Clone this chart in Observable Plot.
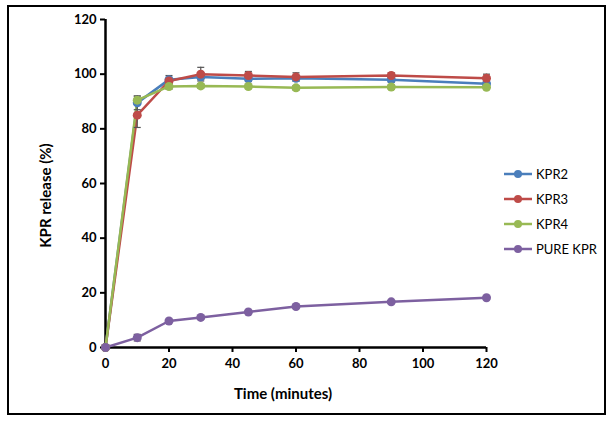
<!DOCTYPE html>
<html>
<head>
<meta charset="utf-8">
<script src="https://cdn.jsdelivr.net/npm/d3@7"></script>
<script src="https://cdn.jsdelivr.net/npm/@observablehq/plot@0.6"></script>
<style>
  html, body { margin: 0; padding: 0; background: #fff; }
  #wrap { position: relative; width: 613px; height: 425px; }
  #frame { position: absolute; left: 7px; top: 5px; width: 595px; height: 406px; border: 2px solid #000; pointer-events: none; }
  #legend { position: absolute; left: 503px; top: 161px; font-family: Lato, "Liberation Sans", sans-serif; font-size: 13px; color: #000; }
  #legend .item { display: flex; align-items: center; height: 25px; }
  #legend svg { margin-right: 3px; }
</style>
</head>
<body>
<div id="wrap">
  <div id="chart"></div>
  <div id="legend"></div>
  <div id="frame"></div>
</div>
<script>
const times = [0, 10, 20, 30, 45, 60, 90, 120];
const seriesNames = ["KPR2", "KPR3", "KPR4", "PURE KPR"];
const colors = ["#4A7EBB", "#BE4B48", "#98B954", "#7D60A0"];
const kpr2 = [0, 89.5, 98, 99, 98.3, 98.5, 98, 96.5];
const kpr3 = [0, 85, 97.5, 100, 99.5, 99, 99.5, 98.5];
const kpr4 = [0, 90.5, 95.5, 95.7, 95.5, 95, 95.3, 95.2];
const pure = [0, 3.6, 9.7, 11, 13, 15, 16.7, 18.2];
const kpr2Err = [0, 2.5, 1.5, 1, 1, 1, 1, 1];
const kpr3Err = [0, 4.5, 1, 2.5, 1.5, 1.5, 1, 1.5];
const kpr4Err = [0, 1.5, 1, 0.8, 0.8, 0.8, 0.8, 0.8];
const pureErr = [0, 1.2, 0.5, 0.5, 0.5, 0.5, 0.5, 0.5];
const xTicks = [0, 20, 40, 60, 80, 100, 120];
const yTicks = [0, 20, 40, 60, 80, 100, 120];
const xLabel = "Time (minutes)";
const yLabel = "KPR release (%)";

const allValues = [kpr2, kpr3, kpr4, pure];
const allErr = [kpr2Err, kpr3Err, kpr4Err, pureErr];
const data = [];
seriesNames.forEach((s, i) => {
  times.forEach((t, j) => {
    data.push({series: s, time: t, value: allValues[i][j], err: allErr[i][j]});
  });
});

const capSymbol = {
  draw(context, size) {
    const r = 3.5;
    context.moveTo(-r, 0);
    context.lineTo(r, 0);
  }
};

const font = "Lato, 'Liberation Sans', sans-serif";
const errData = data.filter(d => d.err > 0);

const chart = Plot.plot({
  width: 613,
  height: 425,
  marginLeft: 105,
  marginRight: 127,
  marginTop: 19,
  marginBottom: 78,
  style: { fontFamily: font, fontSize: "13px", fontWeight: "bold", color: "#000", background: "#fff" },
  x: { domain: [0, 120] },
  y: { domain: [0, 120] },
  color: { domain: seriesNames, range: colors },
  marks: [
    Plot.axisY({ ticks: yTicks, tickSize: 5, tickPadding: 4, strokeWidth: 2, label: null, fontSize: 13 }),
    Plot.axisX({ ticks: xTicks, tickSize: 5, tickPadding: 6, strokeWidth: 2, label: null, fontSize: 13 }),
    Plot.text([yLabel], { text: d => d, frameAnchor: "left", textAnchor: "middle", rotate: -90, dx: -59, dy: 12, fontSize: 15, fontWeight: "bold" }),
    Plot.text([xLabel], { text: d => d, frameAnchor: "bottom", textAnchor: "middle", dx: -13, dy: 51, fontSize: 15, fontWeight: "bold" }),
    Plot.ruleX([0], { stroke: "#000", strokeWidth: 2.5 }),
    Plot.ruleY([0], { stroke: "#000", strokeWidth: 2.5 }),
    Plot.line(data, { x: "time", y: "value", z: "series", stroke: "series", strokeWidth: 2.5 }),
    Plot.ruleX(errData, { x: "time", y1: d => d.value - d.err, y2: d => d.value + d.err, stroke: "#555", strokeWidth: 1.2 }),
    Plot.dot(errData, { x: "time", y: d => d.value + d.err, symbol: capSymbol, stroke: "#555", strokeWidth: 1.2 }),
    Plot.dot(errData, { x: "time", y: d => d.value - d.err, symbol: capSymbol, stroke: "#555", strokeWidth: 1.2 }),
    Plot.dot(data, { x: "time", y: "value", fill: "series", r: 4.5 })
  ]
});
document.getElementById("chart").appendChild(chart);

const legend = document.getElementById("legend");
seriesNames.forEach((s, i) => {
  const item = document.createElement("div");
  item.className = "item";
  item.innerHTML = `<svg width="30" height="10"><line x1="1" y1="5" x2="29" y2="5" stroke="${colors[i]}" stroke-width="2.5"/><circle cx="15" cy="5" r="4" fill="${colors[i]}"/></svg><span>${s}</span>`;
  legend.appendChild(item);
});
</script>
</body>
</html>
